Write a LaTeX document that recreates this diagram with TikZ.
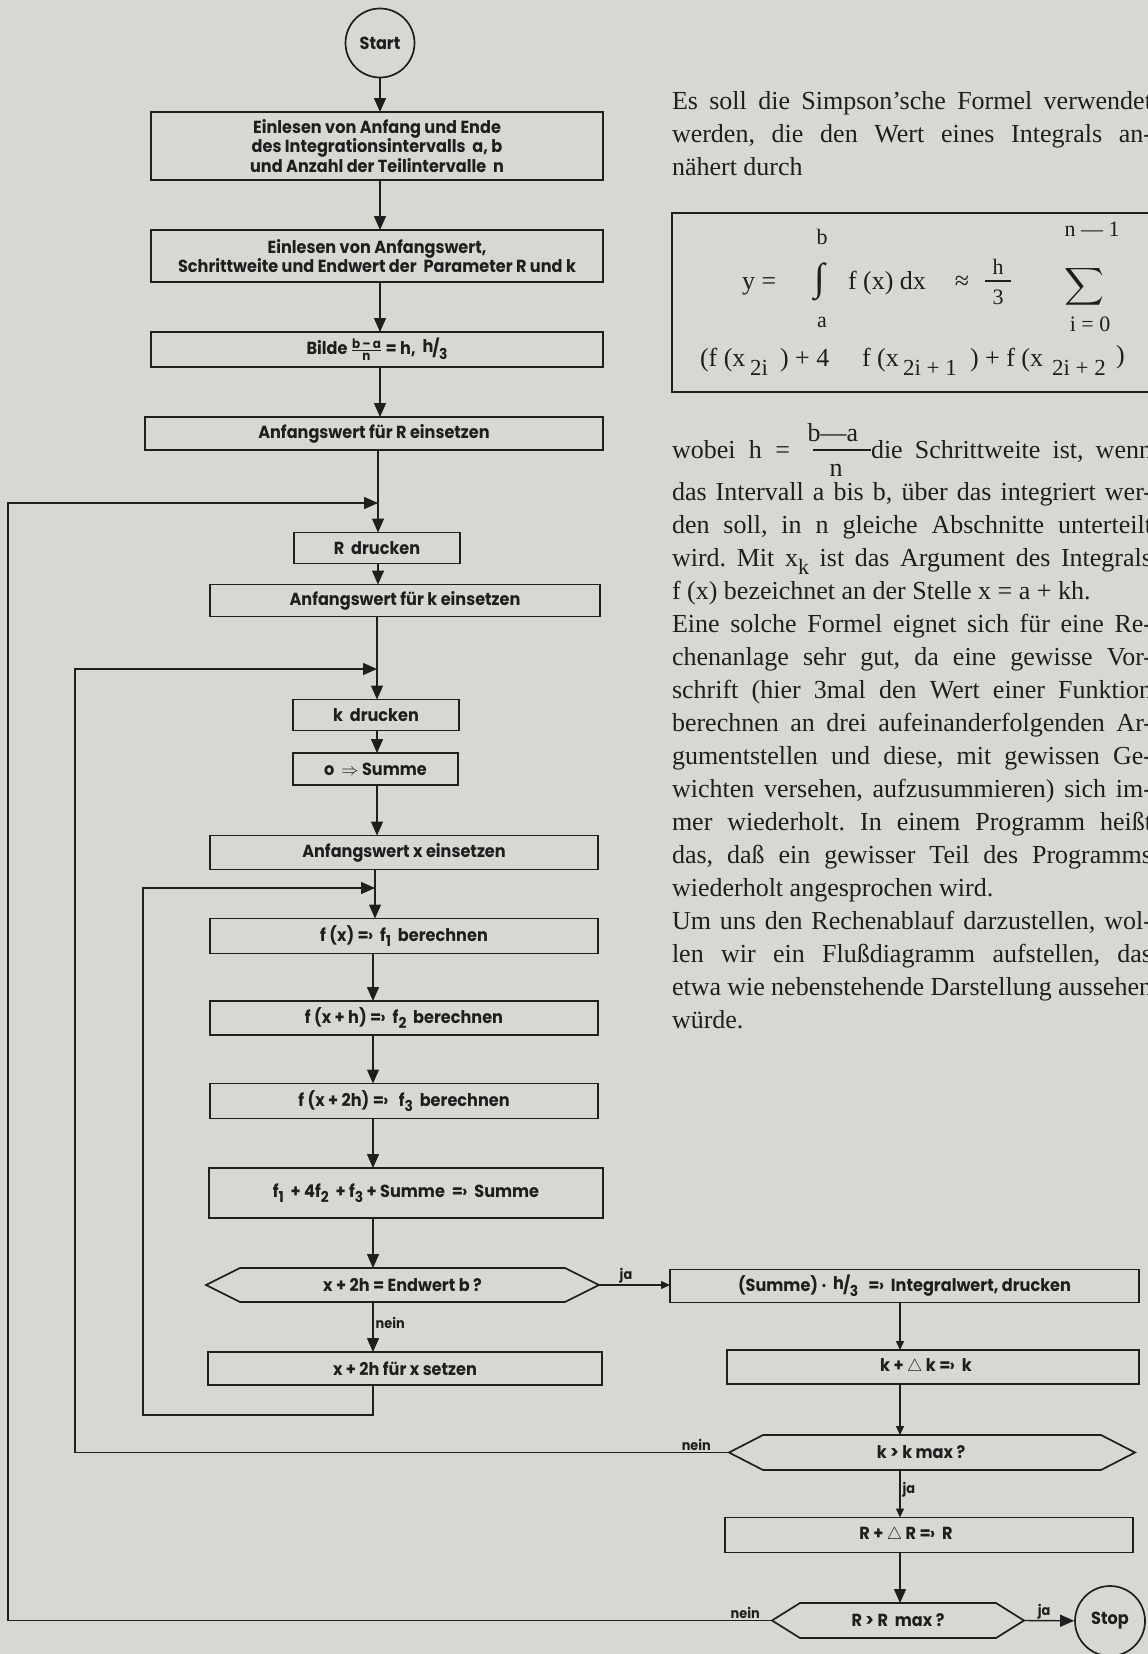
\documentclass[tikz,border=0pt]{standalone}
\usepackage{fontspec}
\usepackage{amsmath}
\usepackage{graphicx}
\setsansfont{Poppins}[FakeStretch=0.92]
\newfontfamily\serifA{Liberation Serif}
\usetikzlibrary{arrows.meta}
\definecolor{paper}{RGB}{216,216,211}
\definecolor{ink}{RGB}{30,30,30}
\newcommand\bxf{\sffamily\bfseries\fontsize{17.5}{19.5}\selectfont}
\newcommand\lo[1]{\raisebox{-0.45ex}{\fontsize{15}{16}\selectfont #1}}
\newcommand\gives{=\kern-0.05em›}
\newcommand\txtf{\serifA\fontsize{26}{30}\selectfont}
\newcommand\limf{\serifA\fontsize{22}{24}\selectfont}
\newcommand\subf{\serifA\fontsize{23}{25}\selectfont}
\newcommand\hthird{\raisebox{2pt}{h}\kern-1pt/\kern-0.5pt\lo{3}}
\newcommand\bafrac{\ensuremath{\genfrac{}{}{0.9pt}{1}{\text{\fontsize{13}{13}\selectfont b\,–\,a}}{\text{\fontsize{13}{13}\selectfont n}}}}
\newcommand\hexo[2]{\draw[hexline] (#1.west) -- ([xshift=#2]#1.north west) -- ([xshift=-#2]#1.north east) -- (#1.east) -- ([xshift=-#2]#1.south east) -- ([xshift=#2]#1.south west) -- cycle;}
\frenchspacing
\begin{document}
\begin{tikzpicture}[x=1pt, y=-1pt,
  box/.style={draw=ink, line width=1.7pt, rectangle, inner sep=0pt, outer sep=0pt, align=center, font=\bxf, text=ink},
  hexa/.style={rectangle, inner sep=0pt, outer sep=0pt, align=center, font=\bxf, text=ink},
  term/.style={circle, draw=ink, line width=1.7pt, inner sep=0pt, minimum size=69pt, font=\bxf, text=ink},
  hexline/.style={draw=ink, line width=1.7pt, line join=miter},
  arr/.style={draw=ink, line width=1.4pt, -{Triangle[length=14pt,width=12pt]}},
  arrs/.style={draw=ink, line width=1.4pt, -{Triangle[length=9pt,width=8pt]}},
  lbl/.style={font=\sffamily\bfseries\fontsize{14}{15}\selectfont, text=ink, inner sep=2pt},
  tline/.style={anchor=base west, inner sep=0pt, outer sep=0pt, text=ink, font=\txtf},
  fpart/.style={inner sep=0pt, outer sep=0pt, text=ink},
]
\useasboundingbox (0,0) rectangle (1148,1654);
\clip (0,0) rectangle (1148,1654);
\fill[paper] (0,0) rectangle (1148,1654);

% axes and loop coordinates
\coordinate (axA) at (380,0);
\coordinate (axC) at (373,0);
\coordinate (axR) at (900,0);
\coordinate (lp1) at (8,0);
\coordinate (lp2) at (75,0);
\coordinate (lp3) at (143,0);
\coordinate (j1) at (378,503);
\coordinate (j2) at (377,669);
\coordinate (j3) at (375,888);
\coordinate (lowturn) at (373,1415);

% ---------------- flow chart nodes ----------------
\node[term] (start) at (380,43) {Start};
\node[box, minimum width=452pt, minimum height=68pt] (b1) at (377,146)
  {Einlesen von Anfang und Ende\\des Integrationsintervalls\ \ a, b\\und Anzahl der Teilintervalle\ \ n};
\node[box, minimum width=452pt, minimum height=52pt] (b2) at (377,256)
  {Einlesen von Anfangswert,\\Schrittweite und Endwert der\ \ Parameter R und k};
\node[box, minimum width=452pt, minimum height=35pt] (b3) at (377,349.5)
  {Bilde \bafrac\ = h,\ \ \hthird};
\node[box, minimum width=458pt, minimum height=33pt] (b4) at (374,433.5) {Anfangswert für R einsetzen};
\node[box, minimum width=166pt, minimum height=31pt] (rdr) at (377,548) {R\ \ drucken};
\node[box, minimum width=390pt, minimum height=32pt] (ank) at (405,600.5) {Anfangswert für k einsetzen};
\node[box, minimum width=166pt, minimum height=31pt] (kdr) at (376,715) {k\ \ drucken};
\node[box, minimum width=165pt, minimum height=32pt] (osum) at (375.5,769) {o\ \ $\Rightarrow$ Summe};
\node[box, minimum width=388pt, minimum height=34pt] (anx) at (404,852.5) {Anfangswert x einsetzen};
\node[box, minimum width=388pt, minimum height=35pt] (b10) at (404,936) {f (x) \gives\ \ f\lo{1}\ \ berechnen};
\node[box, minimum width=388pt, minimum height=34pt] (b11) at (404,1018) {f (x + h) \gives\ \ f\lo{2}\ \ berechnen};
\node[box, minimum width=388pt, minimum height=35pt] (b12) at (404,1101) {f (x + 2h) \gives\ \ \ f\lo{3}\ \ berechnen};
\node[box, minimum width=394pt, minimum height=50pt] (b13) at (406,1193) {f\lo{1}\ \ + 4f\lo{2}\ \ + f\lo{3} + Summe\ \ \gives\ \ Summe};
\node[hexa, minimum width=393pt, minimum height=34pt] (d1) at (402.5,1285) {x + 2h = Endwert b ?};
\hexo{d1}{34pt}
\node[box, minimum width=394pt, minimum height=33pt] (b15) at (405,1368.5) {x + 2h für x setzen};

\node[box, minimum width=469pt, minimum height=33pt] (b14) at (904.5,1286) {(Summe) · \ \hthird\ \ \ \gives\ \ Integralwert, drucken};
\node[box, minimum width=412pt, minimum height=34pt] (b16) at (933,1367) {k + $\triangle$ k \gives\ \ k\hspace*{14pt}};
\node[hexa, minimum width=406pt, minimum height=35pt] (d2) at (932,1452.5) {k > k max ?\hspace*{22pt}};
\hexo{d2}{34pt}
\node[box, minimum width=408pt, minimum height=35pt] (b17) at (929,1535) {R + $\triangle$ R \gives\ \ R\hspace*{46pt}};
\node[hexa, minimum width=252pt, minimum height=35pt] (d3) at (898,1620.5) {R > R\ \ max ?};
\hexo{d3}{28pt}
\node[term, minimum size=70pt] (stop) at (1110,1621) {Stop};

% ---------------- connectors ----------------
\draw[arr] (start) -- (b1.north -| axA);
\draw[arr] (b1.south -| axA) -- (b2.north -| axA);
\draw[arr] (b2.south -| axA) -- (b3.north -| axA);
\draw[arr] (b3.south -| axA) -- (b4.north -| axA);
\draw[arr] (b4.south -| j1) -- (rdr.north -| j1);
\draw[arr] (rdr.south -| j1) -- (ank.north -| j1);
\draw[arr] (ank.south -| j2) -- (kdr.north -| j2);
\draw[arr] (kdr.south -| j2) -- (osum.north -| j2);
\draw[arr] (osum.south -| j2) -- (anx.north -| j2);
\draw[arr] (anx.south -| j3) -- (b10.north -| j3);
\draw[arr] (b10.south -| axC) -- (b11.north -| axC);
\draw[arr] (b11.south -| axC) -- (b12.north -| axC);
\draw[arr] (b12.south -| axC) -- (b13.north -| axC);
\draw[arr] (b13.south -| axC) -- (d1.north -| axC);
\draw[arr] (d1.south -| axC) -- node[lbl, right, pos=0.42] (nein1) {nein} (b15.north -| axC);
\draw[arr] (b15.south -| axC) -- (lowturn) -- (lowturn -| lp3) -- (lp3 |- j3) -- (j3);

\draw[arrs] (d1.east) -- node[lbl, above, pos=0.38, inner sep=1pt] (ja1) {ja} (d1.east -| b14.west);
\draw[arrs] (b14.south -| axR) -- (b16.north -| axR);
\draw[arrs] (b16.south -| axR) -- (d2.north -| axR);
\draw[arrs] (d2.south -| axR) -- node[lbl, right, pos=0.42] (ja2) {ja} (b17.north -| axR);
\draw[arr] (b17.south -| axR) -- (d3.north -| axR);
\draw[arr] (d3.east) -- node[lbl, above, pos=0.4, inner sep=1pt] (ja3) {ja} (stop);

\draw[arr] (d2.west) -- node[lbl, above, pos=0.05, inner sep=1pt] (nein2) {nein} (d2.west -| lp2) -- (lp2 |- j2) -- (j2);
\draw[arr] (d3.west) -- node[lbl, above, pos=0.035, inner sep=1pt] (nein3) {nein} (d3.west -| lp1) -- (lp1 |- j1) -- (j1);

% ---------------- text column ----------------
\node[tline] (t1) at (672,109) {\makebox[480pt][s]{Es soll die Simpson’sche Formel verwendet}};
\node[tline] (t2) at (672,142) {\makebox[480pt][s]{werden, die den Wert eines Integrals an-}};
\node[tline] (t3) at (672,175) {nähert durch};

\node[draw=ink, line width=1.7pt, inner sep=0pt, outer sep=0pt, anchor=north west, minimum width=520pt, minimum height=179pt] (fbox) at (672,213) {};
\node[fpart, anchor=base west, font=\txtf] (fy) at (742,289) {y =};
\node[fpart] (fint) at (820,282) {\resizebox*{!}{38pt}{\txtf ∫}};
\node[fpart, anchor=base, font=\limf] (fb) at (822,244) {b};
\node[fpart, anchor=base, font=\limf] (fa) at (822,327) {a};
\node[fpart, anchor=base west, font=\txtf] (ffx) at (848,289) {f (x) dx};
\node[fpart, anchor=base, font=\txtf] (fap) at (962,289) {≈};
\node[fpart, anchor=base, font=\limf] (fh) at (998,274) {h};
\draw[ink, line width=1.3pt] (985,281) -- (1011,281);
\node[fpart, anchor=base, font=\limf] (f3) at (998,304) {3};
\node[fpart] (fsum) at (1084,287) {\resizebox*{40pt}{42pt}{$\displaystyle\sum$}};
\node[fpart, anchor=base, font=\limf] (fn) at (1092,236) {n — 1};
\node[fpart, anchor=base, font=\limf] (fi) at (1090,331) {i = 0};
\node[fpart, anchor=base west, font=\txtf] (fr1) at (700,366) {(f (x};
\node[fpart, anchor=base west, font=\subf] (fr2) at (750,375) {2i};
\node[fpart, anchor=base west, font=\txtf] (fr3) at (780,366) {) + 4};
\node[fpart, anchor=base west, font=\txtf] (fr4) at (862,366) {f (x};
\node[fpart, anchor=base west, font=\subf] (fr5) at (903,375) {2i + 1};
\node[fpart, anchor=base west, font=\txtf] (fr6) at (970,366) {) + f (x};
\node[fpart, anchor=base west, font=\subf] (fr7) at (1052,375) {2i + 2};
\node[fpart, anchor=base west, font=\txtf] (fr8) at (1116,363) {)};

\node[tline] (tw1) at (672,458) {\makebox[118pt][s]{wobei h =}};
\node[fpart, anchor=base, font=\txtf] (twn) at (833,441) {b—a};
\draw[ink, line width=1.1pt] (813,450) -- (871,450);
\node[fpart, anchor=base, font=\txtf] (twd) at (836,476) {n};
\node[tline] (tw2) at (871,458) {\makebox[281pt][s]{die Schrittweite ist, wenn}};

\node[tline] (t5) at (672,500) {\makebox[480pt][s]{das Intervall a bis b, über das integriert wer-}};
\node[tline] (t6) at (672,533) {\makebox[480pt][s]{den soll, in n gleiche Abschnitte unterteilt}};
\node[tline] (t7) at (672,566) {\makebox[480pt][s]{wird. Mit x\raisebox{-8pt}{\limf k} ist das Argument des Integrals}};
\node[tline] (t8) at (672,599) {f (x) bezeichnet an der Stelle x = a + kh.};
\node[tline] (t9) at (672,632) {\makebox[480pt][s]{Eine solche Formel eignet sich für eine Re-}};
\node[tline] (t10) at (672,665) {\makebox[480pt][s]{chenanlage sehr gut, da eine gewisse Vor-}};
\node[tline] (t11) at (672,698) {\makebox[480pt][s]{schrift (hier 3mal den Wert einer Funktion}};
\node[tline] (t12) at (672,731) {\makebox[480pt][s]{berechnen an drei aufeinanderfolgenden Ar-}};
\node[tline] (t13) at (672,764) {\makebox[480pt][s]{gumentstellen und diese, mit gewissen Ge-}};
\node[tline] (t14) at (672,797) {\makebox[480pt][s]{wichten versehen, aufzusummieren) sich im-}};
\node[tline] (t15) at (672,830) {\makebox[480pt][s]{mer wiederholt. In einem Programm heißt}};
\node[tline] (t16) at (672,863) {\makebox[480pt][s]{das, daß ein gewisser Teil des Programms}};
\node[tline] (t17) at (672,896) {wiederholt angesprochen wird.};
\node[tline] (t18) at (672,929) {\makebox[480pt][s]{Um uns den Rechenablauf darzustellen, wol-}};
\node[tline] (t19) at (672,962) {\makebox[480pt][s]{len wir ein Flußdiagramm aufstellen, das}};
\node[tline] (t20) at (672,995) {\makebox[480pt][s]{etwa wie nebenstehende Darstellung aussehen}};
\node[tline] (t21) at (672,1028) {würde.};
\end{tikzpicture}
\end{document}
